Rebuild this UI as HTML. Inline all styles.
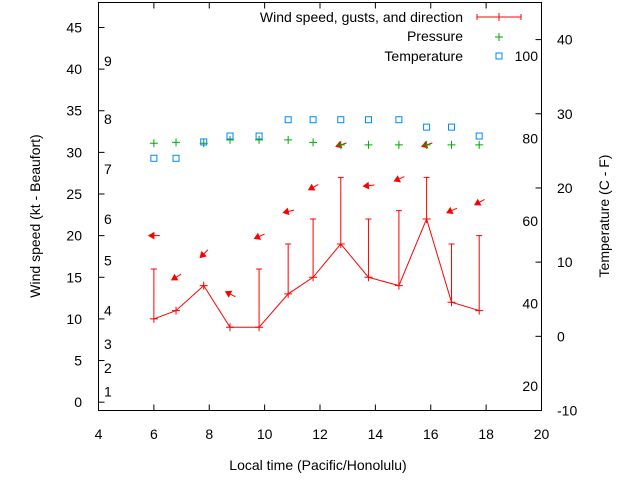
<!DOCTYPE html>
<html><head><meta charset="utf-8"><style>
body{margin:0;background:#fff}
svg{display:block;font-family:"Liberation Sans",sans-serif;font-size:14px}
</style></head><body>
<svg id="c" width="640" height="480">
<rect x="98.5" y="2.5" width="443" height="408" fill="none" stroke="#000"/>
<g id="axes"></g><g id="marks"></g>
<text x="318" y="470" text-anchor="middle">Local time (Pacific/Honolulu)</text>
<text transform="translate(40,216) rotate(-90)" text-anchor="middle">Wind speed (kt - Beaufort)</text>
<text transform="translate(609,216) rotate(-90)" text-anchor="middle">Temperature (C - F)</text>
<g>
<text x="463" y="22" text-anchor="end">Wind speed, gusts, and direction</text>
<path d="M477 17H521M477 14v6M521 14v6M499 13v8M495 17h8" stroke="#f00" fill="none"/>
<text x="463" y="41" text-anchor="end">Pressure</text>
<path d="M495 37h8M499 33v8" stroke="#0a0"/>
<text x="463" y="61" text-anchor="end">Temperature</text>
<rect x="496" y="53" width="6" height="6" fill="none" stroke="#08f"/>
</g>
</svg>
<script>
const times=[6,6.8,7.8,8.75,9.8,10.85,11.75,12.75,13.75,14.85,15.85,16.75,17.75];
const wind=[10,11,14,9,9,13,15,19,15,14,22,12,11];
const gusts=[16,null,null,null,16,19,22,27,22,23,27,19,20];
const pressure=[31.1,31.2,31.1,31.5,31.5,31.5,31.2,30.9,30.9,30.9,30.9,30.9,30.9];
const tempC=[24,24,26.2,27,27,29.2,29.2,29.2,29.2,29.2,28.2,28.2,27];
const arrowY=[20,15,17.8,13,19.9,22.9,25.8,30.9,26,26.8,30.9,23,24];
const windDir=[90,59,45,117,66,77,61,72,84,66,72,66,61];
const xTicks=[4,6,8,10,12,14,16,18,20];
const yTicks=[0,5,10,15,20,25,30,35,40,45];
const y2Ticks=[-10,0,10,20,30,40];
const fTicks=[20,40,60,80,100];
const beaufort=[[1,1.3],[2,4.1],[3,7],[4,11],[5,17],[6,22],[7,28],[8,34],[9,41]];
const X=v=>98.5+(v-4)*443/16;
const Y=v=>410.5-(v+1)*408/49;
const Y2=v=>410.5-(v+10)*408/55;
const NS="http://www.w3.org/2000/svg";
function mk(tag,attrs,parent,txt){const e=document.createElementNS(NS,tag);for(const k in attrs)e.setAttribute(k,attrs[k]);if(txt!=null)e.textContent=txt;document.getElementById(parent).appendChild(e);return e;}
xTicks.forEach(t=>{
 const l=mk('path',{d:`M${X(t)} 410.5v-6M${X(t)} 2.5v6`,stroke:'#000'},'axes');
 
 
 const tx=mk('text',{x:X(t),y:439,'text-anchor':'middle'},'axes',t);
 
 
});
yTicks.forEach(t=>{
 const l=mk('path',{d:`M98.5 ${Y(t)}h6`,stroke:'#000'},'axes');
 
 
 const tx=mk('text',{x:82,y:Y(t)+5,'text-anchor':'end'},'axes',t);
 
 
});
y2Ticks.forEach(t=>{
 const l=mk('path',{d:`M541.5 ${Y2(t)}h-6`,stroke:'#000'},'axes');
 
 
 const tx=mk('text',{x:557,y:Y2(t)+5},'axes',t);
 
 
});
fTicks.forEach(f=>{
 const tx=mk('text',{x:538,y:Y2((f-32)*5/9)+5,'text-anchor':'end'},'axes',f);
 
 
});
beaufort.forEach(b=>{
 const tx=mk('text',{x:104,y:Y(b[1])+5},'axes',b[0]);
 
 
});
const pl=mk('polyline',{points:times.map((t,i)=>X(t)+','+Y(wind[i])).join(' '),fill:'none',stroke:'#f00'},'marks');


times.forEach((t,i)=>{
 const x=X(t),y=Y(wind[i]);
 let d=`M${x-4} ${y}h8M${x} ${y-4}v8`;
 if(gusts[i]!=null){const g=Y(gusts[i]);d+=`M${x} ${y}V${g}M${x-3} ${g}h6`;}
 const p=mk('path',{d:d,stroke:'#f00',fill:'none'},'marks');
 
 
 const a=windDir[i]*Math.PI/180,dx=Math.sin(a),dy=-Math.cos(a);
 const ax=x,ay=Y(arrowY[i]);
 const hx=ax-dx*5,hy=ay-dy*5,tx=ax+dx*6,ty=ay+dy*6;
 const px=-dy,py=dx;
 const ar=mk('path',{d:`M${tx} ${ty}L${hx} ${hy}M${hx} ${hy}L${hx+dx*5+px*3} ${hy+dy*5+py*3}L${hx+dx*5-px*3} ${hy+dy*5-py*3}Z`,stroke:'#f00',fill:'#f00'},'marks');
 
 
 const py2=Y(pressure[i]);
 const pm=mk('path',{d:`M${x-4} ${py2}h8M${x} ${py2-4}v8`,stroke:'#0a0'},'marks');
 
 
 const ty2=Y2(tempC[i]);
 const tm=mk('rect',{x:x-3,y:ty2-3,width:6,height:6,fill:'none',stroke:'#08f'},'marks');
 
 
});
</script>
</body></html>
